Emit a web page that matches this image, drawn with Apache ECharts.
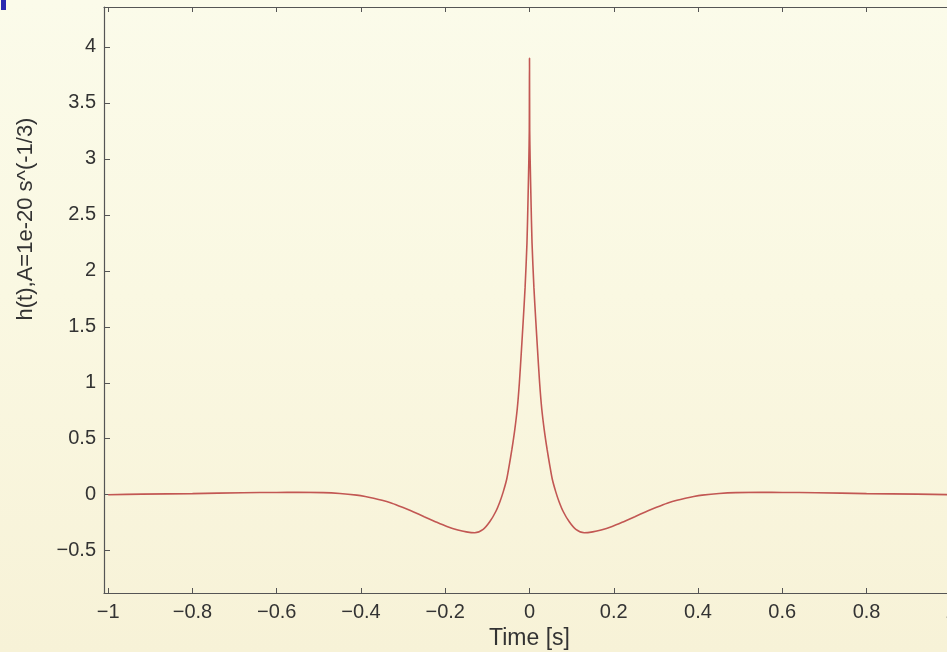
<!DOCTYPE html>
<html>
<head>
<meta charset="utf-8">
<script src="https://cdn.jsdelivr.net/npm/echarts@6/dist/echarts.min.js"></script>
<style>
  html, body { margin: 0; padding: 0; }
  #chart { width: 947px; height: 652px; background: linear-gradient(180deg, #fbfbea 0%, #faf8e2 45%, #f7f2d7 100%); }
</style>
</head>
<body>
<div id="chart"></div>
<script>
// Time samples [s]
const times = [
  -1.0, -0.92, -0.8, -0.68, -0.6, -0.55, -0.49, -0.45, -0.41, -0.39, -0.37, -0.35, -0.33, -0.31, -0.29,
  -0.275, -0.25, -0.22, -0.196, -0.17, -0.15, -0.13, -0.11, -0.094, -0.08, -0.07, -0.062,
  -0.054, -0.048, -0.042, -0.035, -0.029, -0.024, -0.019, -0.015, -0.0105, -0.006, -0.0035,
  -0.0015, -0.0005, 0,
  0.0005, 0.0015, 0.0035, 0.006, 0.0105, 0.015, 0.019, 0.024, 0.029, 0.035, 0.042, 0.048,
  0.054, 0.062, 0.07, 0.08, 0.094, 0.11, 0.13, 0.15, 0.17, 0.196, 0.22, 0.25, 0.275, 0.29,
  0.31, 0.33, 0.35, 0.37, 0.39, 0.41, 0.45, 0.49, 0.55, 0.6, 0.68, 0.8, 0.92, 1.0
];
// h(t) values
const strain = [
  0.0, 0.005, 0.01, 0.018, 0.02, 0.022, 0.019, 0.011, -0.004, -0.016, -0.032, -0.05, -0.072, -0.100, -0.130,
  -0.154, -0.196, -0.246, -0.283, -0.315, -0.332, -0.34, -0.31, -0.24, -0.15, -0.06, 0.03,
  0.14, 0.265, 0.40, 0.58, 0.77, 1.00, 1.30, 1.55, 1.85, 2.25, 2.64,
  3.00, 3.25, 3.90,
  3.25, 3.00, 2.64, 2.25, 1.85, 1.55, 1.30, 1.00, 0.77, 0.58, 0.40, 0.265,
  0.14, 0.03, -0.06, -0.15, -0.24, -0.31, -0.34, -0.332, -0.315, -0.283, -0.246, -0.196, -0.154, -0.130,
  -0.100, -0.072, -0.05, -0.032, -0.016, -0.004, 0.011, 0.019, 0.022, 0.02, 0.018, 0.01, 0.005, 0.0
];
const xTicks = [-1, -0.8, -0.6, -0.4, -0.2, 0, 0.2, 0.4, 0.6, 0.8, 1];
const yTicks = [-0.5, 0, 0.5, 1, 1.5, 2, 2.5, 3, 3.5, 4];
const xName = 'Time [s]';
const yName = 'h(t),A=1e-20 s^(-1/3)';

const fmt = v => String(v).replace('-', '\u2212');
const axisColor = '#555555';
const textColor = '#333333';
const font = 'Liberation Sans, Arial, sans-serif';

const chart = echarts.init(document.getElementById('chart'), null, { renderer: 'canvas' });
chart.setOption({
  backgroundColor: 'transparent',
  animation: false,
  grid: { left: 104, top: 7, width: 851, height: 586, containLabel: false, outerBoundsMode: 'none' },
  xAxis: [{
    type: 'value', min: -1.01, max: 1.01, position: 'bottom',
    name: xName, nameLocation: 'middle', nameGap: 31,
    nameTextStyle: { fontSize: 23, color: textColor, fontFamily: font },
    axisLine: { show: true, onZero: false, lineStyle: { color: axisColor, width: 1.2 } },
    axisTick: { show: true, inside: true, length: 5, customValues: xTicks, lineStyle: { color: axisColor } },
    axisLabel: { customValues: xTicks, formatter: fmt, fontSize: 20, color: textColor, fontFamily: font, margin: 9 },
    splitLine: { show: false }
  }, {
    type: 'value', min: -1.01, max: 1.01, position: 'top',
    axisLine: { show: true, onZero: false, lineStyle: { color: axisColor, width: 1.2 } },
    axisTick: { show: true, inside: true, length: 5, customValues: xTicks, lineStyle: { color: axisColor } },
    axisLabel: { show: false },
    splitLine: { show: false }
  }],
  yAxis: [{
    type: 'value', min: -0.878, max: 4.357, position: 'left',
    axisLine: { show: true, onZero: false, lineStyle: { color: axisColor, width: 1.2 } },
    axisTick: { show: true, inside: true, length: 6, customValues: yTicks, lineStyle: { color: axisColor } },
    axisLabel: { customValues: yTicks, formatter: fmt, fontSize: 20, color: textColor, fontFamily: font, margin: 8 },
    splitLine: { show: false }
  }],
  graphic: [
    { type: 'rect', left: 1, top: 0, shape: { width: 5, height: 10 }, style: { fill: '#2a2ab0' } },
    { type: 'text', x: 26, y: 219, rotation: Math.PI / 2,
      style: { text: yName, fontSize: 22, fill: textColor, fontFamily: font, align: 'center', verticalAlign: 'middle' } }
  ],
  series: [{
    type: 'line',
    xAxisIndex: 0, yAxisIndex: 0,
    data: times.map((t, i) => [t, strain[i]]),
    showSymbol: false,
    smooth: 0.25,
    lineStyle: { color: '#c25753', width: 1.6 },
    clip: true
  }]
});
</script>
</body>
</html>
